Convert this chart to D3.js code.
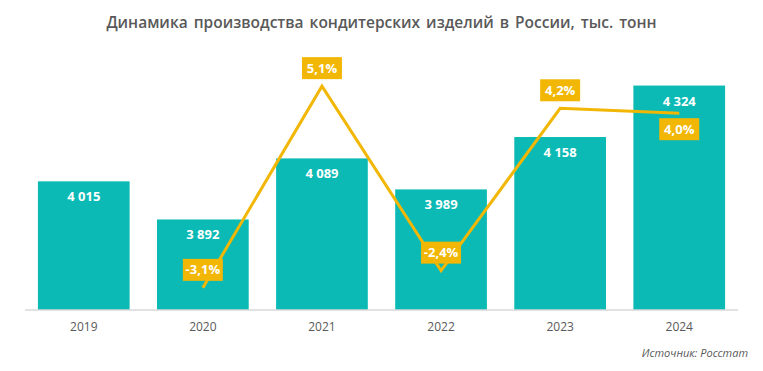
<!DOCTYPE html>
<html>
<head>
<meta charset="utf-8">
<script src="https://cdn.jsdelivr.net/npm/d3@7"></script>
<style>
   body { margin: 0; background: #fff; }
   svg { display: block; font-family: 'Open Sans', 'Noto Sans', sans-serif; }
</style>
</head>
<body>
<div id="chart"></div>
<script>
// data
const years = ['2019', '2020', '2021', '2022', '2023', '2024'];
const volumes = [4015, 3892, 4089, 3989, 4158, 4324];
const growthYears = ['2020', '2021', '2022', '2023', '2024'];
const growth = [-3.1, 5.1, -2.4, 4.2, 4.0];
const growthLabelBelow = [false, false, false, false, true];

const width = 763;
const height = 371;
const margin = { top: 62, right: 25, bottom: 61, left: 25 };

const svg = d3
   .select('#chart')
   .append('svg')
   .attr('width', width)
   .attr('height', height);

const fmtNum = (v) => d3.format(',')(v).replace(/,/g, ' ');
const fmtPct = (v) => v.toFixed(1).replace('.', ',') + '%';

const xScale = d3
   .scaleBand()
   .domain(years)
   .range([margin.left + 1, width - margin.right - 1])
   .paddingInner(0.23)
   .paddingOuter(0.1);

const yScale = d3
   .scaleLinear()
   .domain([3600, 4400])
   .range([height - margin.bottom, height - margin.bottom - 248]);

const y2Scale = d3
   .scaleLinear()
   .domain([-4, 6])
   .range([height - margin.bottom, height - margin.bottom - 246]);

// title
svg.append('text')
   .attr('x', width / 2)
   .attr('y', 28)
   .attr('text-anchor', 'middle')
   .attr('fill', '#595959')
   .attr('font-size', 15.5)
   .attr('font-weight', 600)
   .attr('word-spacing', 2)
   .text('Динамика производства кондитерских изделий в России, тыс. тонн');

// bars
svg.append('g')
   .selectAll('rect')
   .data(volumes)
   .join('rect')
   .attr('x', (d, i) => xScale(years[i]))
   .attr('y', (d) => yScale(d))
   .attr('width', xScale.bandwidth())
   .attr('height', (d) => yScale.range()[0] - yScale(d))
   .attr('fill', '#0BBAB4');

svg.append('g')
   .selectAll('text')
   .data(volumes)
   .join('text')
   .attr('x', (d, i) => xScale(years[i]) + xScale.bandwidth() / 2)
   .attr('y', (d) => yScale(d) + 20)
   .attr('text-anchor', 'middle')
   .attr('fill', '#fff')
   .attr('font-size', 13)
   .attr('font-weight', 700)
   .text((d) => fmtNum(d));

// x axis
const xAxis = d3.axisBottom(xScale).tickSize(0).tickPadding(12);
const xAxisG = svg.append('g')
   .attr('transform', `translate(0,${height - margin.bottom})`)
   .call(xAxis);
xAxisG.select('.domain')
   .attr('stroke', '#d9d9d9')
   .attr('stroke-width', 1.5)
   .attr('d', `M${margin.left},0H${width - margin.right}`);
xAxisG.selectAll('text')
   .attr('fill', '#595959')
   .attr('font-size', 12)
   .attr('font-family', "'Open Sans', sans-serif");

// growth line
const cx = (i) => xScale(growthYears[i]) + xScale.bandwidth() / 2;
const line = d3.line()
   .x((d, i) => cx(i))
   .y((d) => y2Scale(d));

svg.append('path')
   .datum(growth)
   .attr('d', line)
   .attr('fill', 'none')
   .attr('stroke', '#F2B705')
   .attr('stroke-width', 3)
   .attr('stroke-linejoin', 'miter');

const lbl = svg.append('g')
   .selectAll('g')
   .data(growth)
   .join('g')
   .attr('transform', (d, i) => {
      const y = y2Scale(d) + (growthLabelBelow[i] ? 16 : -18);
      return `translate(${cx(i)},${y})`;
   });

lbl.append('rect')
   .attr('x', -20)
   .attr('y', -11)
   .attr('width', 40)
   .attr('height', 22)
   .attr('fill', '#F2B705');

lbl.append('text')
   .attr('text-anchor', 'middle')
   .attr('dy', '0.35em')
   .attr('fill', '#fff')
   .attr('font-size', 13)
   .attr('font-weight', 700)
   .text((d) => fmtPct(d));

// source
svg.append('text')
   .attr('x', width - 15)
   .attr('y', 357)
   .attr('text-anchor', 'end')
   .attr('fill', '#595959')
   .attr('font-size', 11)
   .attr('font-style', 'italic')
   .text('Источник: Росстат');
</script>
</body>
</html>
